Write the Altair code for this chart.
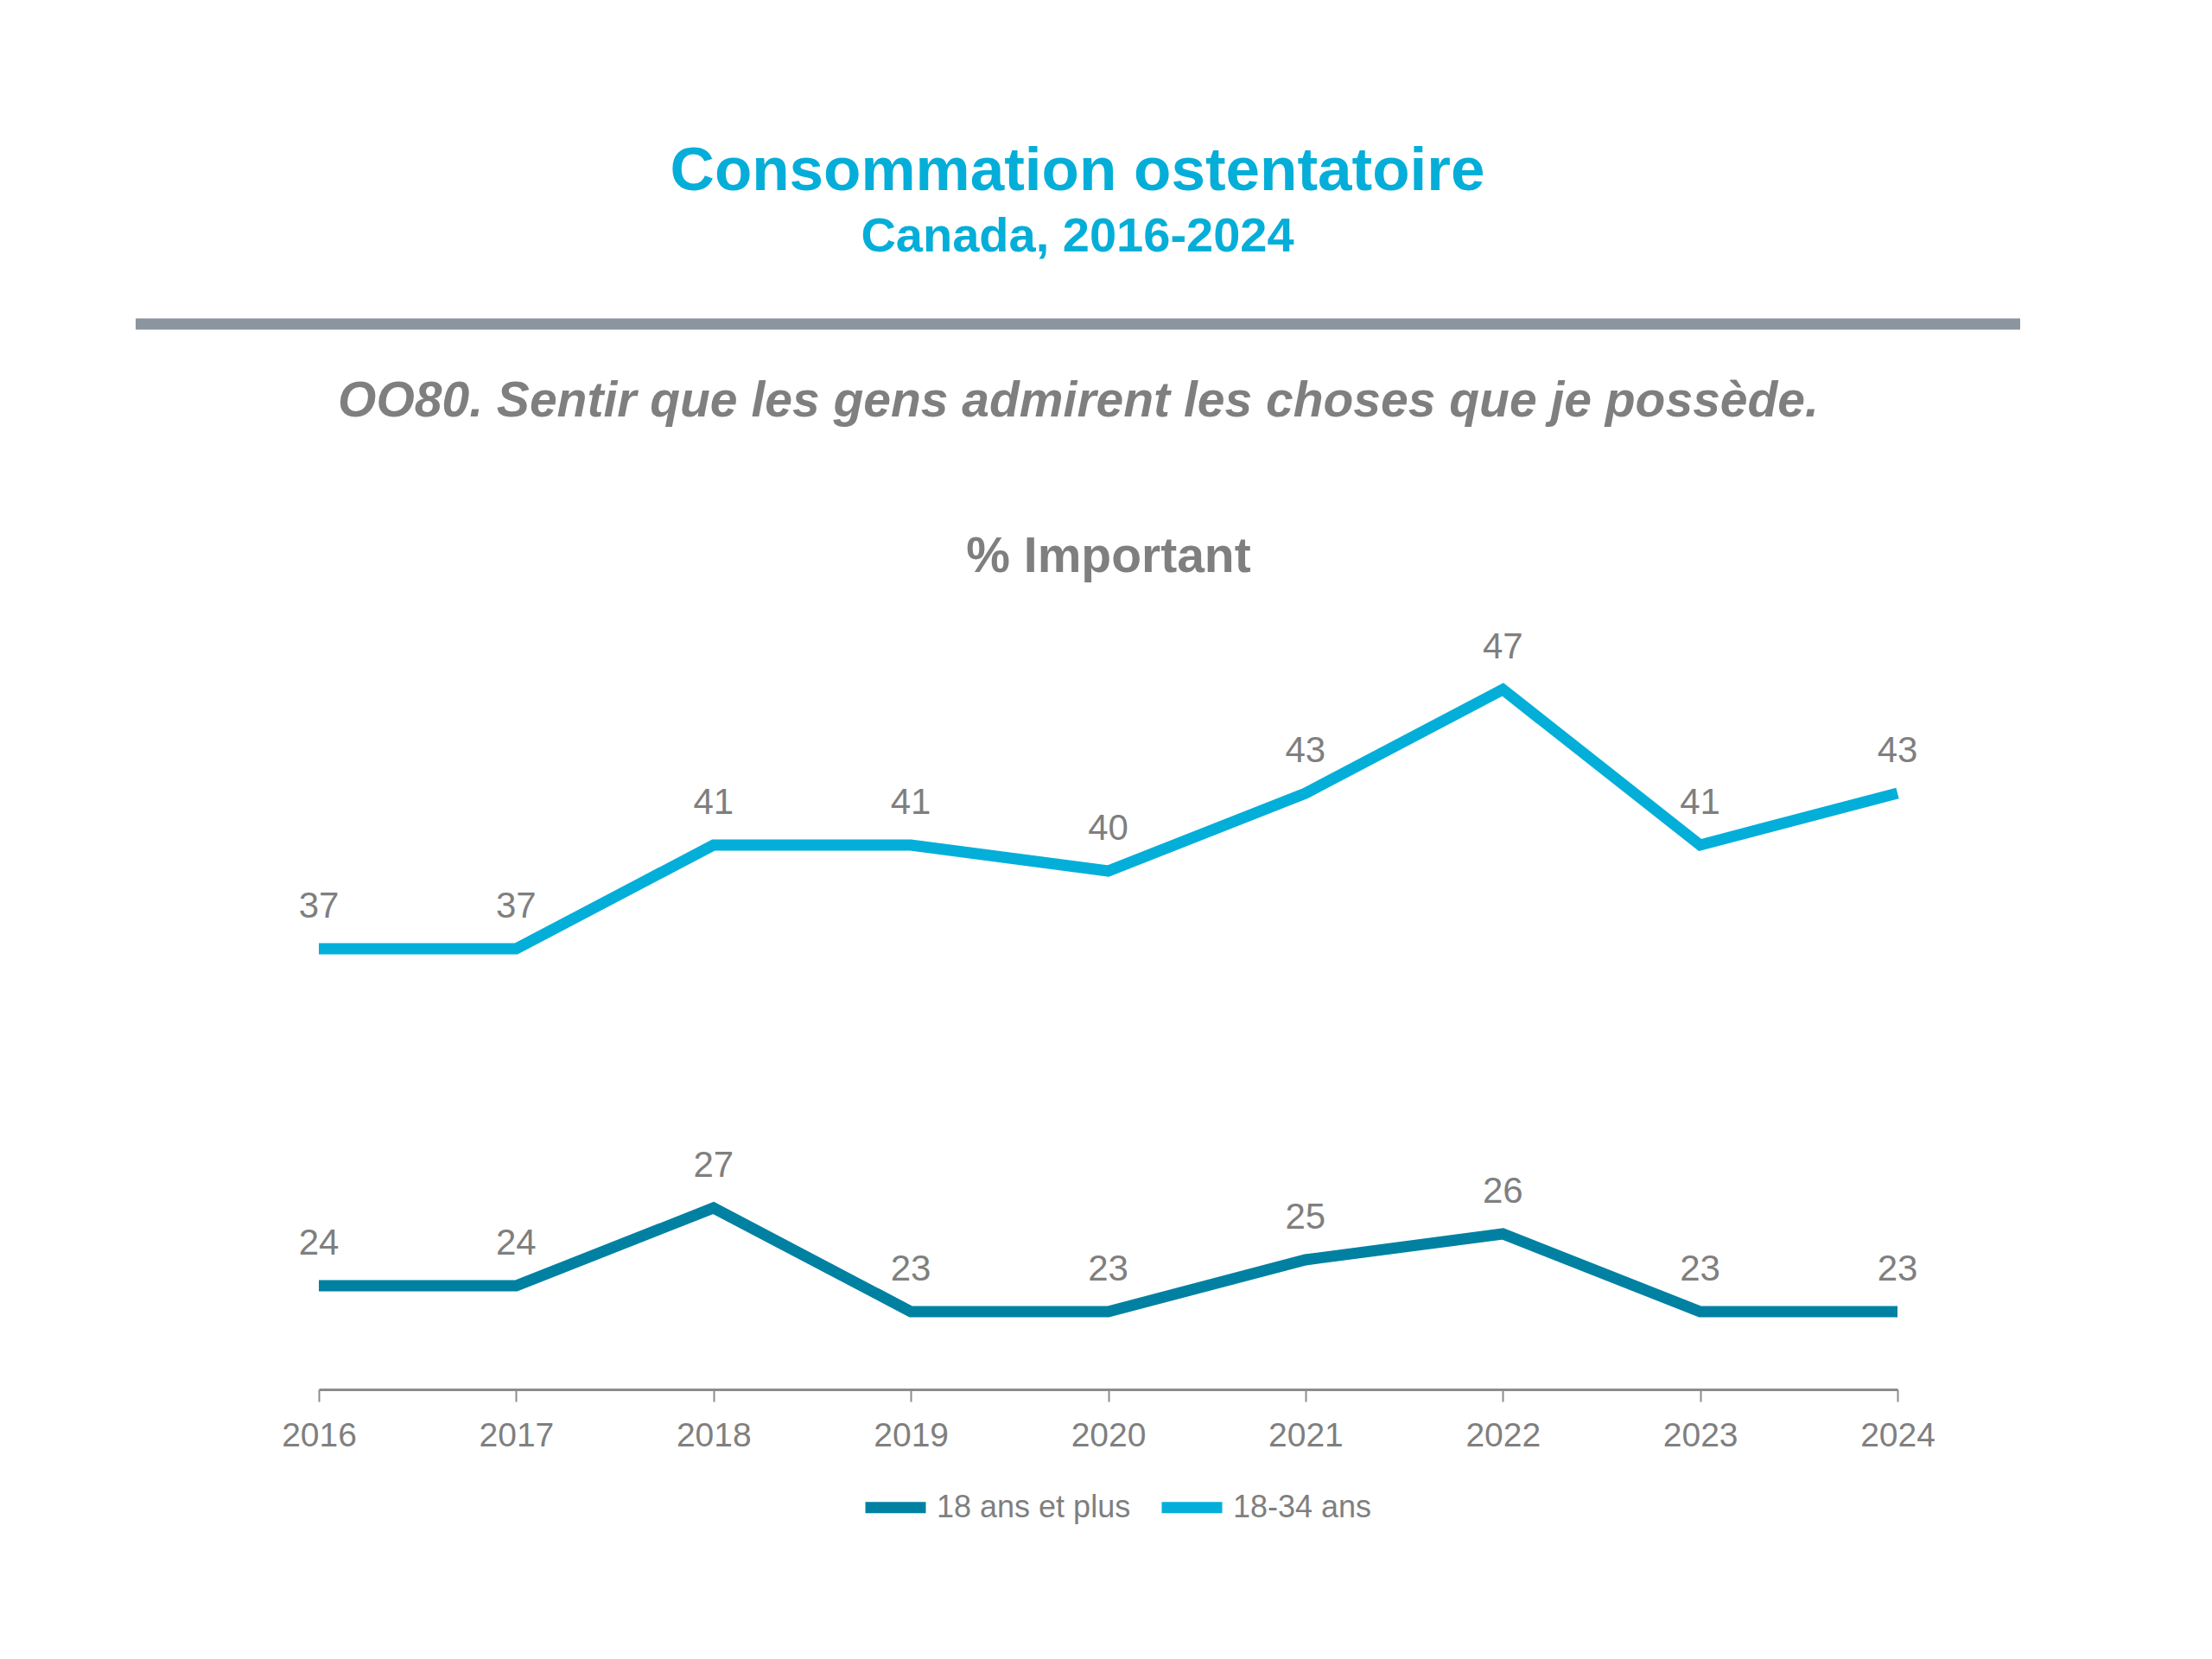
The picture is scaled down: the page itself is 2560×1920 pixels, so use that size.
import altair as alt
import pandas as pd

years = ["2016", "2017", "2018", "2019", "2020", "2021", "2022", "2023", "2024"]
adults = [24, 24, 27, 23, 23, 25, 26, 23, 23]
young = [37, 37, 41, 41, 40, 43, 47, 41, 43]
series_names = ["18 ans et plus", "18-34 ans"]
series_colors = ["#0081A2", "#03AFD9"]

title_text = "Consommation ostentatoire"
subtitle_text = "Canada, 2016-2024"
question_text = "OO80. Sentir que les gens admirent les choses que je possède."
measure_text = "% Important"

rows = []
for y, a, b in zip(years, adults, young):
    rows.append({"annee": y, "serie": series_names[0], "valeur": a})
    rows.append({"annee": y, "serie": series_names[1], "valeur": b})
df = pd.DataFrame(rows)

NARROW = "Liberation Sans Narrow, Arial Narrow, Liberation Sans, sans-serif"
SANS = "Liberation Sans, Arial, sans-serif"
GRAY = "#7F7F7F"

x_enc = alt.X(
    "annee:O",
    title=None,
    sort=years,
    scale=alt.Scale(type="point", padding=0),
    axis=alt.Axis(
        labelAngle=0,
        labelFont=NARROW,
        labelFontSize=39,
        labelColor=GRAY,
        labelPadding=20,
        tickSize=14,
        tickColor="#8C8C8C",
        tickWidth=2,
        domainColor="#8C8C8C",
        domainWidth=3,
        grid=False,
    ),
)
y_enc = alt.Y("valeur:Q", title=None, axis=None, scale=alt.Scale(domain=[20, 50], nice=False, zero=False))
color_enc = alt.Color(
    "serie:N",
    sort=series_names,
    scale=alt.Scale(domain=series_names, range=series_colors),
    legend=alt.Legend(
        title=None,
        orient="none",
        direction="horizontal",
        legendX=626,
        legendY=995,
        symbolType="stroke",
        symbolStrokeWidth=13,
        symbolSize=4900,
        labelFont=NARROW,
        labelFontSize=36,
        labelColor=GRAY,
        labelOffset=6,
        labelLimit=0,
        columnPadding=9,
    ),
)

base = alt.Chart(df)
lines = base.mark_line(strokeWidth=13).encode(x=x_enc, y=y_enc, color=color_enc)
labels = base.mark_text(
    font=NARROW, fontSize=42, color=GRAY, baseline="middle", dy=-49
).encode(x=x_enc, y=y_enc, text="valeur:Q")

hdr = pd.DataFrame({"t": [0]})
hbase = alt.Chart(hdr)
title = hbase.mark_text(
    text=title_text, font=SANS, fontSize=71, fontWeight="bold", color="#05AED8",
    align="center", baseline="middle"
).encode(x=alt.value(878), y=alt.value(-509))
subtitle = hbase.mark_text(
    text=subtitle_text, font=SANS, fontSize=56, fontWeight="bold", color="#05AED8",
    align="center", baseline="middle"
).encode(x=alt.value(878), y=alt.value(-434))
bar = hbase.mark_rule(strokeWidth=13, color="#8C959F").encode(
    x=alt.value(-212), x2=alt.value(1969), y=alt.value(-333)
)
question = hbase.mark_text(
    text=question_text, font=SANS, fontSize=57, fontWeight="bold", fontStyle="italic",
    color=GRAY, align="center", baseline="middle"
).encode(x=alt.value(879), y=alt.value(-243))
measure = hbase.mark_text(
    text=measure_text, font=SANS, fontSize=57, fontWeight="bold",
    color=GRAY, align="center", baseline="middle"
).encode(x=alt.value(914), y=alt.value(-63))

chart = (
    alt.layer(lines, labels, title, subtitle, bar, question, measure)
    .properties(
        width=1827,
        height=900,
        autosize=alt.AutoSizeParams(type="none"),
        padding={"left": 369, "top": 708, "right": 364, "bottom": 312},
        background="white",
    )
    .configure_view(stroke=None)
)

chart.save("out.html", embed_options={"renderer": "svg", "actions": False})
